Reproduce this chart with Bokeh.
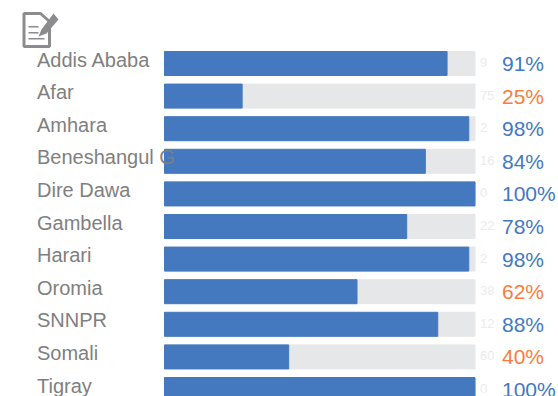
from bokeh.plotting import figure
from bokeh.embed import file_html
from bokeh.resources import INLINE
from bokeh.models import Range1d, ColumnDataSource, PolyAnnotation
from bokeh.core.properties import value

regions = ["Addis Ababa", "Afar", "Amhara", "Beneshangul G", "Dire Dawa", "Gambella",
           "Harari", "Oromia", "SNNPR", "Somali", "Tigray"]
pct = [91, 25, 98, 84, 100, 78, 98, 62, 88, 40, 100]
rest = [9, 75, 2, 16, 0, 22, 2, 38, 12, 60, 0]
BLUE = "#4479bf"
ORANGE = "#f97c3c"

W, H = 558, 396
pitch = 32.6
px = 3.105
p = figure(width=W, height=H, output_backend="svg", toolbar_location=None, min_border=0,
           x_range=Range1d(-164 / px, (W - 164) / px),
           y_range=Range1d((H - 63) / pitch, -63 / pitch),
           outline_line_color=None, background_fill_color="white")
p.axis.visible = False
p.grid.visible = False

n = len(regions)
src = ColumnDataSource(dict(
    y=list(range(n)), pct=pct, full=[a + b for a, b in zip(pct, rest)], region=regions,
    rest=[str(v) for v in rest], label=[f"{v}%" for v in pct],
    color=[BLUE if v >= 70 else ORANGE for v in pct],
    zero=[0] * n,
    label_x=[(36.5 - 164) / px] * n, rest_x=[(479.5 - 164) / px] * n, pct_x=[(501.5 - 164) / px] * n))
bh = 24 / pitch
p.hbar(y="y", left="zero", right="full", height=bh, color="#e6e7e8", source=src)
p.hbar(y="y", left="zero", right="pct", height=bh, color=BLUE, source=src)

p.text(x="label_x", y="y", text="region", source=src, text_font=value("Liberation Sans"),
       text_font_size="20px", text_color="#7f7f7f", text_baseline="middle", y_offset=-4)
p.text(x="rest_x", y="y", text="rest", source=src, text_font=value("Liberation Sans"),
       text_font_size="13px", text_color="#ebebeb", text_baseline="middle", y_offset=-1)
p.text(x="pct_x", y="y", text="label", source=src, text_font=value("Liberation Sans"),
       text_font_size="21px", text_color="color", text_baseline="middle", y_offset=0)

# note icon (pixel coordinates from the top-left corner, flipped for screen units)
GR = "#8c8c8e"
def poly(xs, ys, fill=GR, line=None, lw=0):
    p.add_layout(PolyAnnotation(xs=list(xs), ys=[H - y for y in ys], xs_units="screen", ys_units="screen",
                                fill_color=fill or "white", fill_alpha=1,
                                line_color=line or GR, line_width=lw, line_alpha=1 if line else 0))
poly([23.5, 40, 49, 49, 23.5], [13, 13, 21, 46, 46], fill="white", line=GR, lw=3)
poly([41, 53, 58, 46, 38], [29, 13, 19, 33, 36])
poly([28, 44, 44, 28], [39, 39, 37.5, 37.5])
poly([28, 38, 38, 28], [33, 33, 31.5, 31.5])
poly([28, 38, 38, 28], [27, 27, 25.5, 25.5])

open("out.html", "w").write(file_html(p, INLINE))
